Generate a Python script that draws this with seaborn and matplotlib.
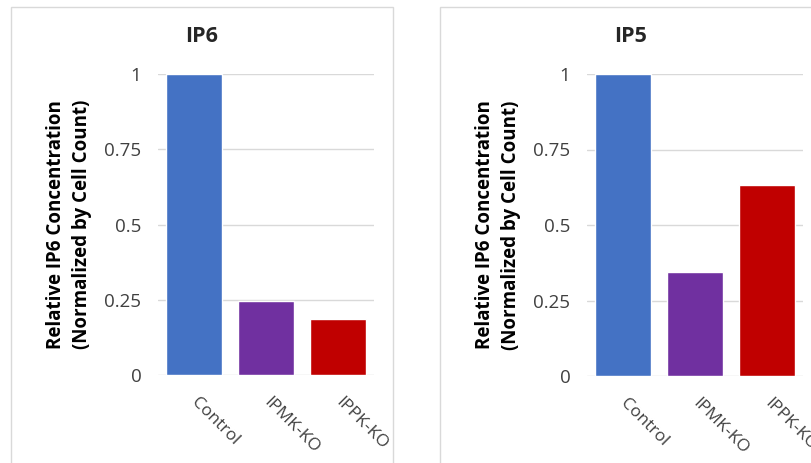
import pandas as pd
import seaborn as sns
import matplotlib.pyplot as plt
from matplotlib.patches import Rectangle

# data
groups = ["Control", "IPMK-KO", "IPPK-KO"]
ip6_values = [1.0, 0.245, 0.186]
ip5_values = [1.0, 0.343, 0.631]
bar_colors = ["#4472C4", "#7030A0", "#C00000"]
yticks = [0, 0.25, 0.5, 0.75, 1]
ytick_labels = ["0", "0.25", "0.5", "0.75", "1"]
ylabel = "Relative IP6 Concentration\n(Normalized by Cell Count)"

sns.set_style("white")
plt.rcParams["font.family"] = ["Open Sans", "DejaVu Sans"]

fig = plt.figure(figsize=(8.12, 4.63), dpi=100)
W, H = 812, 463


def px_axes(x0, x1, ytop, ybot):
    return fig.add_axes([x0 / W, 1 - ybot / H, (x1 - x0) / W, (ybot - ytop) / H])


# chart frames (Excel-style chart area borders)
for fx0, fx1 in [(11, 393), (440, 822)]:
    fig.patches.append(
        Rectangle((fx0 / W, -0.05), (fx1 - fx0) / W, 1 - 7 / H + 0.05,
                  transform=fig.transFigure, fill=False,
                  edgecolor="#D9D9D9", linewidth=1, zorder=0)
    )

panels = [
    ("IP6", ip6_values, px_axes(158, 374, 74, 375), 202),
    ("IP5", ip5_values, px_axes(587, 803, 74, 376), 631),
]

for title, values, ax, title_x in panels:
    df = pd.DataFrame({"group": groups, "value": values})
    sns.barplot(data=df, x="group", y="value", hue="group",
                palette=bar_colors, width=0.78, saturation=1,
                legend=False, ax=ax, zorder=3)
    ax.set_ylim(0, 1)
    ax.set_xlim(-0.5, 2.5)
    ax.set_yticks(yticks)
    ax.set_yticklabels(ytick_labels, fontsize=13.5, color="#404040")
    ax.yaxis.grid(True, color="#D9D9D9", linewidth=1)
    ax.set_axisbelow(True)
    for s in ax.spines.values():
        s.set_visible(False)
    ax.tick_params(axis="both", length=0)
    ax.tick_params(axis="y", pad=12)
    ax.set_xlabel("")
    ax.set_ylabel(ylabel, fontsize=13.5, fontweight="bold", color="black",
                  labelpad=9, linespacing=1.35)
    ax.set_xticks(range(len(groups)))
    ax.set_xticklabels(groups, rotation=-45, ha="left", va="center",
                       rotation_mode="anchor", fontsize=12.5, color="#404040")
    ax.tick_params(axis="x", pad=18)
    fig.text(title_x / W, 1 - 37 / H, title, ha="center", va="center",
             fontsize=15.5, fontweight="bold")

fig.savefig("out.png", dpi=100)
